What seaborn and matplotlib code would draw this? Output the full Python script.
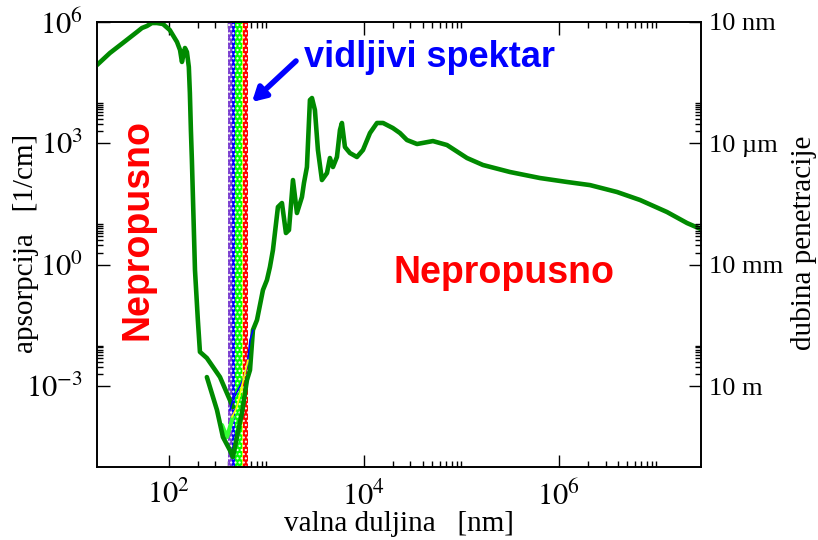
import matplotlib
matplotlib.use("Agg")
import matplotlib.pyplot as plt
import pandas as pd
import seaborn as sns
from matplotlib.ticker import FixedLocator, NullFormatter

# apsorpcija vode, ocitano sa slike (valna duljina u nm, alfa u 1/cm)
uv_lambda = [18.3, 24.8, 33.7, 47.0, 52.9, 59.5, 66.9, 75.3, 86.8, 102, 121, 130, 136, 146,
             153, 160, 164, 168, 172, 185, 198, 208, 245, 334, 422, 453]
uv_alpha = [86500, 171000, 303000, 566000, 711000, 796000, 944000, 944000, 893000, 634000,
            321000, 203000, 103000, 228000, 181000, 77300, 17600, 2140, 387, 0.74, 0.043,
            0.0070, 0.00493, 0.00167, 0.000452, 0.000303]

ir_lambda = [245, 311, 358, 422, 453, 498, 561, 631, 678, 727, 800, 921, 1012, 1086, 1166,
             1312, 1442, 1585, 1702, 1871, 2055, 2312, 2426, 2602, 2793, 2930, 3141, 3373,
             3707, 4178, 4477, 4808, 5284, 5675, 5943, 6383, 7180, 8470, 9770, 11530, 13600,
             15700, 19800, 23400, 27600, 35000, 51000, 71000, 114000, 166000, 314000, 638000,
             1.21e6, 2.08e6, 3.94e6, 6.78e6, 1.28e7, 2.06e7, 2.86e7]
ir_alpha = [0.00167, 0.000256, 5.5e-5, 2.6e-5, 1.76e-5, 5.5e-5, 0.000216, 0.00141, 0.00249,
            0.0243, 0.043, 0.237, 0.419, 0.877, 2.31, 26.7, 33.5, 6.08, 7.2, 124, 19, 47.2,
            105, 260, 11800, 13200, 6670, 685, 124, 185, 434, 260, 460, 2140, 3190, 813, 577,
            460, 685, 1800, 3190, 3190, 2390, 1800, 1210, 964, 1140, 910, 434, 292, 196, 139,
            111, 93, 62.7, 39.8, 20.1, 10.7, 7.6]

# ostali skupovi podataka u vidljivom dijelu
lime_lambda = [350, 394, 453]
lime_alpha = [1.09e-4, 5.5e-5, 1.72e-4]
blue_lambda = [422, 453, 574, 631, 678, 727]
blue_alpha = [2.56e-4, 4.52e-4, 1.41e-3, 2.96e-3, 0.0137, 0.0243]
yellow_lambda = [443, 498, 602, 646]
yellow_alpha = [1.72e-4, 3.03e-4, 2.1e-3, 4.4e-3]

# vidljivi spektar (granice u nm)
band_edges = [403, 445, 480, 560, 578, 650]
band_colors = ["#7b3fd0", "#0000ff", "#00ff00", "#e8f000", "#ff0000"]

y_ticks = [1e-3, 1e0, 1e3, 1e6]
y_labels = [r"$10^{\mathrm{-}3}$", r"$10^{0}$", r"$10^{3}$", r"$10^{6}$"]
depth_labels = ["10 m", "10 mm", "10 \u00b5m", "10 nm"]
x_ticks = [1e2, 1e4, 1e6]
x_labels = [r"$10^{2}$", r"$10^{4}$", r"$10^{6}$"]

sns.set_style("ticks")
plt.rcParams["font.family"] = ["Liberation Serif", "DejaVu Serif"]
plt.rcParams["mathtext.fontset"] = "stix"
plt.rcParams["hatch.linewidth"] = 1.0
for k in ["text.color", "axes.labelcolor", "xtick.color", "ytick.color", "axes.edgecolor"]:
    plt.rcParams[k] = "black"

W, H = 818, 540
fig = plt.figure(figsize=(W / 100, H / 100), dpi=100)
ax = fig.add_axes([97 / W, 1 - 467 / H, (701 - 97) / W, (467 - 22) / H])
ax.set_xscale("log")
ax.set_yscale("log")

for i, c in enumerate(band_colors):
    ax.axvspan(band_edges[i], band_edges[i + 1], facecolor=c, edgecolor="white",
               hatch="....", lw=0, zorder=1)

green = "#008a00"
sns.lineplot(x=uv_lambda, y=uv_alpha, sort=False, estimator=None, color=green, lw=3.3, ax=ax, zorder=3)
sns.lineplot(x=lime_lambda, y=lime_alpha, sort=False, estimator=None, color="#33ff33", lw=3, ax=ax, zorder=2)
sns.lineplot(x=ir_lambda, y=ir_alpha, sort=False, estimator=None, color=green, lw=3.3, ax=ax, zorder=3)
sns.lineplot(x=blue_lambda, y=blue_alpha, sort=False, estimator=None, color="#0000ff", lw=1.2, ax=ax, zorder=4)
sns.lineplot(x=yellow_lambda, y=yellow_alpha, sort=False, estimator=None, color="#ffff00", lw=1.2, ax=ax, zorder=4)

ax.set_xlim(18.3, 2.86e7)
ax.set_ylim(1e-5, 1e6)

ax.xaxis.set_major_locator(FixedLocator(x_ticks))
ax.xaxis.set_ticklabels(x_labels)
ax.xaxis.set_minor_locator(FixedLocator([m * k for m in x_ticks for k in range(2, 11)]))
ax.xaxis.set_minor_formatter(NullFormatter())
ax.yaxis.set_major_locator(FixedLocator(y_ticks))
ax.yaxis.set_ticklabels(y_labels)
ax.yaxis.set_minor_locator(FixedLocator([m * k for m in y_ticks[:3] for k in range(2, 11)]))
ax.yaxis.set_minor_formatter(NullFormatter())

ax.tick_params(which="both", direction="in", top=True, right=False, color="black",
               labelcolor="black", labelsize=22)
ax.tick_params(which="major", length=9, width=1)
ax.tick_params(which="minor", length=4.5, width=1)
ax.tick_params(axis="x", pad=10)
ax.tick_params(axis="y", pad=10)

ax2 = ax.twinx()
ax2.set_yscale("log")
ax2.set_ylim(ax.get_ylim())
ax2.yaxis.set_major_locator(FixedLocator(y_ticks))
ax2.yaxis.set_ticklabels(depth_labels)
ax2.yaxis.set_minor_locator(FixedLocator([m * k for m in y_ticks[:3] for k in range(2, 11)]))
ax2.yaxis.set_minor_formatter(NullFormatter())
ax2.tick_params(which="both", direction="in", color="black", labelcolor="black",
                labelsize=19, pad=6)
ax2.tick_params(which="major", length=9, width=1)
ax2.tick_params(which="minor", length=4.5, width=1)

for a in (ax, ax2):
    for s in a.spines.values():
        s.set_visible(True)
        s.set_linewidth(1.2)
        s.set_color("black")

fig.text(399 / W, 1 - 531 / H, "valna duljina   [nm]", ha="center", va="baseline", fontsize=21)
fig.text(26 / W, 1 - 243 / H, "apsorpcija   [1/cm]", ha="center", va="center", rotation=90, fontsize=21)
fig.text(804 / W, 1 - 243 / H, "dubina penetracije", ha="center", va="center", rotation=90, fontsize=21)

sans = ["Liberation Sans", "DejaVu Sans"]
fig.text(429 / W, 1 - 67 / H, "vidljivi spektar", ha="center", va="baseline", fontsize=26,
         color="#0000ff", fontweight="bold", family=sans)
fig.text(504 / W, 1 - 283 / H, "Nepropusno", ha="center", va="baseline", fontsize=27,
         color="#ff0000", fontweight="bold", family=sans)
fig.text(137 / W, 1 - 230 / H, "Nepropusno", ha="center", va="center", rotation=90, fontsize=27,
         color="#ff0000", fontweight="bold", family=sans)
ax.annotate("", xy=(252 / W, 1 - 102 / H), xytext=(296 / W, 1 - 61 / H),
            xycoords="figure fraction", textcoords="figure fraction",
            arrowprops=dict(arrowstyle="-|>,head_length=0.8,head_width=0.45", color="#0000ff",
                            lw=4, shrinkA=0, shrinkB=0))

fig.savefig("out.png", dpi=100)
